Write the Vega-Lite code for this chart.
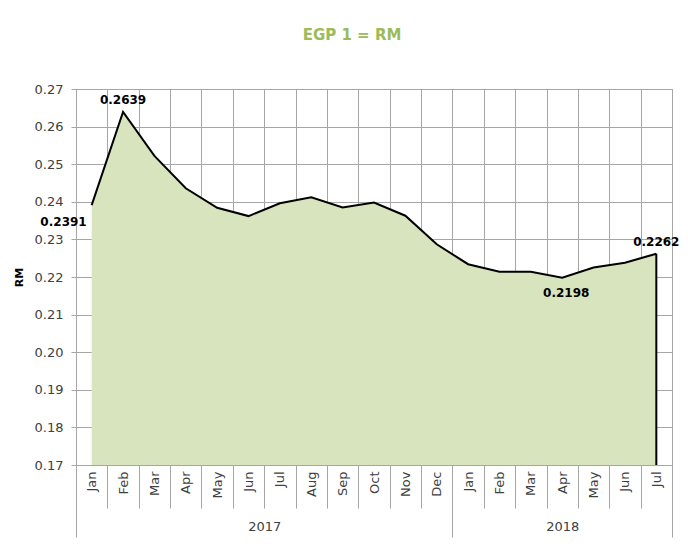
{
  "$schema": "https://vega.github.io/schema/vega-lite/v6.json",
  "autosize": {"type": "none"},
  "width": 596,
  "height": 376,
  "padding": {"left": 76, "top": 89, "right": 16, "bottom": 82},
  "background": "white",
  "config": {
    "view": {"stroke": "#a6a6a6", "strokeWidth": 1},
    "font": "DejaVu Sans"
  },
  "title": {
    "text": "EGP 1 = RM",
    "color": "#9bbb59",
    "fontSize": 15,
    "fontWeight": "bold",
    "offset": 40,
    "dx": -22,
    "anchor": "middle"
  },
  "datasets": {
    "rates": [
      {"key": "Jan 2017", "value": 0.2391},
      {"key": "Feb 2017", "value": 0.2639},
      {"key": "Mar 2017", "value": 0.2522},
      {"key": "Apr 2017", "value": 0.2436},
      {"key": "May 2017", "value": 0.2384},
      {"key": "Jun 2017", "value": 0.2362},
      {"key": "Jul 2017", "value": 0.2396},
      {"key": "Aug 2017", "value": 0.2412},
      {"key": "Sep 2017", "value": 0.2385},
      {"key": "Oct 2017", "value": 0.2398},
      {"key": "Nov 2017", "value": 0.2363},
      {"key": "Dec 2017", "value": 0.2287},
      {"key": "Jan 2018", "value": 0.2234},
      {"key": "Feb 2018", "value": 0.2214},
      {"key": "Mar 2018", "value": 0.2214},
      {"key": "Apr 2018", "value": 0.2198},
      {"key": "May 2018", "value": 0.2225},
      {"key": "Jun 2018", "value": 0.2238},
      {"key": "Jul 2018", "value": 0.2262}
    ],
    "years": [
      {"year": "2017", "start": 0, "end": 12, "mid": 6},
      {"year": "2018", "start": 12, "end": 19, "mid": 15.5}
    ]
  },
  "layer": [
    {
      "data": {"name": "rates"},
      "encoding": {
        "x": {
          "field": "key",
          "type": "ordinal",
          "sort": null,
          "bandPosition": 0.5,
          "scale": {"type": "band", "paddingInner": 0, "paddingOuter": 0},
          "axis": {
            "orient": "bottom",
            "title": null,
            "labelExpr": "split(datum.label, ' ')[0]",
            "labelAngle": 270,
            "labelAlign": "right",
            "labelBaseline": "middle",
            "labelPadding": -37,
            "labelFontSize": 13,
            "labelColor": "#404040",
            "tickBand": "extent",
            "tickSize": 43,
            "tickColor": "#a6a6a6",
            "grid": true,
            "gridColor": "#a6a6a6",
            "domain": false
          }
        },
        "y": {
          "field": "value",
          "type": "quantitative",
          "scale": {"domain": [0.17, 0.27], "nice": false, "zero": false},
          "axis": {
            "title": "RM",
            "titleFontWeight": "bold",
            "titleFontSize": 11,
            "titleColor": "black",
            "titlePadding": 10,
            "values": [0.17, 0.18, 0.19, 0.2, 0.21, 0.22, 0.23, 0.24, 0.25, 0.26, 0.27],
            "format": ".2f",
            "labelFontSize": 13,
            "labelColor": "#404040",
            "labelPadding": 8,
            "gridColor": "#a6a6a6",
            "domainColor": "#a6a6a6",
            "tickColor": "#a6a6a6",
            "tickSize": 5
          }
        }
      },
      "layer": [
        {
          "mark": {"type": "area", "color": "#d7e4bd", "opacity": 1, "fillOpacity": 1, "line": {"color": "black", "strokeWidth": 2}},
          "encoding": {"y2": {"datum": 0.17}}
        },
        {
          "transform": [{"filter": "datum.key == 'Jul 2018'"}],
          "mark": {"type": "rule", "color": "black", "strokeWidth": 2},
          "encoding": {"y2": {"datum": 0.17}}
        },
        {
          "transform": [{"filter": "datum.key == 'Feb 2017' || datum.key == 'Jul 2018'"}],
          "mark": {"type": "text", "fontWeight": "bold", "fontSize": 12, "dy": -12, "baseline": "middle", "color": "black"},
          "encoding": {"text": {"field": "value", "type": "quantitative", "format": ".4f"}}
        },
        {
          "transform": [{"filter": "datum.key == 'Apr 2018'"}],
          "mark": {"type": "text", "fontWeight": "bold", "fontSize": 12, "dy": 15, "dx": 4, "baseline": "middle", "color": "black"},
          "encoding": {"text": {"field": "value", "type": "quantitative", "format": ".4f"}}
        },
        {
          "transform": [{"filter": "datum.key == 'Jan 2017'"}],
          "mark": {"type": "text", "fontWeight": "bold", "fontSize": 12, "dy": 17, "dx": -5, "align": "right", "baseline": "middle", "color": "black"},
          "encoding": {"text": {"field": "value", "type": "quantitative", "format": ".4f"}}
        }
      ]
    },
    {
      "data": {"name": "years"},
      "mark": {"type": "point", "opacity": 0},
      "encoding": {
        "x": {
          "field": "start",
          "type": "quantitative",
          "scale": {"domain": [0, 19], "nice": false, "zero": false},
          "axis": {
            "orient": "bottom",
            "title": null,
            "values": [0, 12, 19],
            "labels": false,
            "tickSize": 72,
            "tickColor": "#a6a6a6",
            "domain": false,
            "grid": false
          }
        }
      }
    },
    {
      "data": {"name": "years"},
      "mark": {"type": "point", "opacity": 0},
      "encoding": {
        "x": {
          "field": "mid",
          "type": "quantitative",
          "scale": {"domain": [0, 19], "nice": false, "zero": false},
          "axis": {
            "orient": "bottom",
            "title": null,
            "values": [6, 15.5],
            "labelExpr": "datum.value < 12 ? '2017' : '2018'",
            "ticks": false,
            "domain": false,
            "grid": false,
            "labelPadding": 55,
            "labelBaseline": "top",
            "labelFontSize": 13,
            "labelColor": "#404040",
            "labelFlush": false
          }
        }
      }
    }
  ],
  "resolve": {"scale": {"x": "independent"}, "axis": {"x": "independent"}}
}
